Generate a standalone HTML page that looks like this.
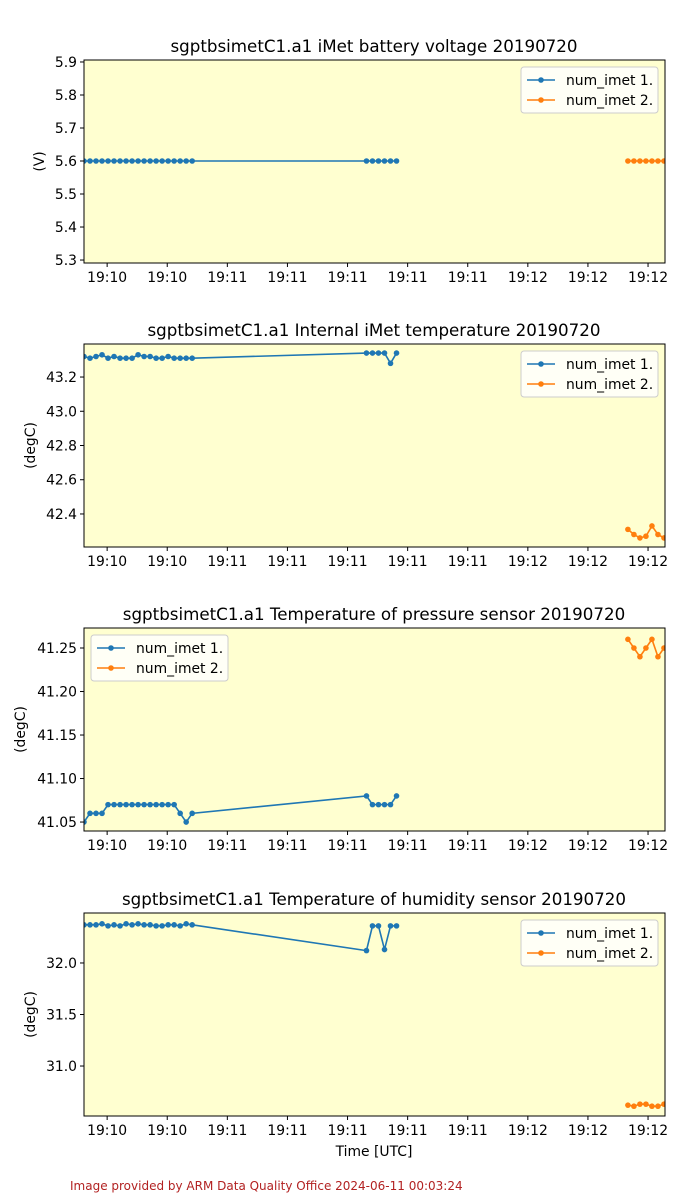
<!DOCTYPE html>
<html><head><meta charset="utf-8"><style>
body{margin:0;background:#fff;}
svg{display:block;font-family:"DejaVu Sans","Liberation Sans",sans-serif;}
</style></head><body>
<svg id="chart" width="700" height="1200" viewBox="0 0 700 1200" xmlns="http://www.w3.org/2000/svg"></svg>
<script>
const tickSec = [7.7, 27.7, 47.7, 67.7, 87.7, 107.7, 127.7, 147.7, 167.7, 187.7];
const tickLabels = ["19:10","19:10","19:11","19:11","19:11","19:11","19:11","19:12","19:12","19:12"];
const blueT = [0,2,4,6,8,10,12,14,16,18,20,22,24,26,28,30,32,34,36, 94,96,98,100,102,104];
const orangeT = [181,183,185,187,189,191,193];
const voltBlue = [5.6,5.6,5.6,5.6,5.6,5.6,5.6,5.6,5.6,5.6,5.6,5.6,5.6,5.6,5.6,5.6,5.6,5.6,5.6, 5.6,5.6,5.6,5.6,5.6,5.6];
const voltOrange = [5.6,5.6,5.6,5.6,5.6,5.6,5.6];
const intBlue = [43.32,43.31,43.32,43.33,43.31,43.32,43.31,43.31,43.31,43.33,43.32,43.32,43.31,43.31,43.32,43.31,43.31,43.31,43.31, 43.34,43.34,43.34,43.34,43.28,43.34];
const intOrange = [42.31,42.28,42.26,42.27,42.33,42.28,42.26];
const presBlue = [41.05,41.06,41.06,41.06,41.07,41.07,41.07,41.07,41.07,41.07,41.07,41.07,41.07,41.07,41.07,41.07,41.06,41.05,41.06, 41.08,41.07,41.07,41.07,41.07,41.08];
const presOrange = [41.26,41.25,41.24,41.25,41.26,41.24,41.25];
const humBlue = [32.37,32.37,32.37,32.38,32.36,32.37,32.36,32.38,32.37,32.38,32.37,32.37,32.36,32.36,32.37,32.37,32.36,32.38,32.37, 32.12,32.36,32.36,32.13,32.36,32.36];
const humOrange = [30.62,30.61,30.63,30.63,30.61,30.61,30.63];
const voltTicks = [5.3,5.4,5.5,5.6,5.7,5.8,5.9];
const intTicks = [42.4,42.6,42.8,43.0,43.2];
const presTicks = [41.05,41.10,41.15,41.20,41.25];
const humTicks = [31.0,31.5,32.0];

const NS="http://www.w3.org/2000/svg";
const svg=document.getElementById('chart');
const X0=84,X1=665;
function xs(t){return X0+t*3.005;}
function mk(tag,attrs,parent){const e=document.createElementNS(NS,tag);for(const k in attrs)e.setAttribute(k,attrs[k]);(parent||svg).appendChild(e);return e;}

const panels=[
 {title:"sgptbsimetC1.a1 iMet battery voltage 20190720",top:60,ymin:5.291,ymax:5.906,ticks:voltTicks,dec:1,ylab:"(V)",b:voltBlue,o:voltOrange,leg:"right",ylx:44},
 {title:"sgptbsimetC1.a1 Internal iMet temperature 20190720",top:344,ymin:42.207,ymax:43.393,ticks:intTicks,dec:1,ylab:"(degC)",b:intBlue,o:intOrange,leg:"right",ylx:35},
 {title:"sgptbsimetC1.a1 Temperature of pressure sensor 20190720",top:628,ymin:41.0397,ymax:41.273,ticks:presTicks,dec:2,ylab:"(degC)",b:presBlue,o:presOrange,leg:"left",ylx:25},
 {title:"sgptbsimetC1.a1 Temperature of humidity sensor 20190720",top:913,ymin:30.515,ymax:32.485,ticks:humTicks,dec:1,ylab:"(degC)",b:humBlue,o:humOrange,leg:"right",ylx:35}
];
const H=203;
panels.forEach((p,i)=>{
 const g=mk('g',{});
 
 
 const ys=v=>p.top+H-(v-p.ymin)/(p.ymax-p.ymin)*H;
 const bg=mk('rect',{x:X0,y:p.top,width:X1-X0,height:H,fill:'#ffffd0'},g);
 
 
 const cp=mk('clipPath',{id:'cp'+i},g);mk('rect',{x:X0,y:p.top,width:X1-X0,height:H},cp);
 const t=mk('text',{x:374,y:p.top-8,'text-anchor':'middle','font-size':16.7,fill:'#000'},g);t.textContent=p.title;
 
 
 p.ticks.forEach(v=>{const y=ys(v);mk('line',{x1:X0-4,x2:X0,y1:y,y2:y,stroke:'#000'},g);
  const tx=mk('text',{x:X0-7,y:y+5,'text-anchor':'end','font-size':13.9},g);tx.textContent=v.toFixed(p.dec);
  
  });
 const yl=mk('text',{x:p.ylx,y:p.top+H/2,'text-anchor':'middle','font-size':13.9,transform:`rotate(-90 ${p.ylx} ${p.top+H/2})`},g);yl.textContent=p.ylab;
 
 
 tickSec.forEach((s,k)=>{const x=xs(s);mk('line',{x1:x,x2:x,y1:p.top+H,y2:p.top+H+4,stroke:'#000'},g);
  const tx=mk('text',{x:x,y:p.top+H+19,'text-anchor':'middle','font-size':13.9},g);tx.textContent=tickLabels[k];
  
  });
 const sg=mk('g',{'clip-path':`url(#cp${i})`},g);
 [[blueT,p.b,'#1f77b4','series-num-imet-1'],[orangeT,p.o,'#ff7f0e','series-num-imet-2']].forEach(([ts,vs,c,n])=>{
  const s=mk('g',{},sg);
  
  
  mk('polyline',{points:ts.map((tt,k)=>xs(tt)+','+ys(vs[k])).join(' '),fill:'none',stroke:c,'stroke-width':1.6},s);
  ts.forEach((tt,k)=>{const d=mk('circle',{cx:xs(tt),cy:ys(vs[k]),r:2.8,fill:c},s);
   
   });
 });
 mk('rect',{x:X0,y:p.top,width:X1-X0,height:H,fill:'none',stroke:'#000','stroke-width':1},g);
 const lx=p.leg==='right'?521:91, ly=p.top+7;
 const lg=mk('g',{},g);
 
 
 mk('rect',{x:lx,y:ly,width:137,height:46,rx:3,fill:'#fff','fill-opacity':0.8,stroke:'#ccc'},lg);
 [['num_imet 1.','#1f77b4'],['num_imet 2.','#ff7f0e']].forEach(([n,c],k)=>{
  const yy=ly+13+k*20;
  const e=mk('g',{},lg);
  
  
  mk('line',{x1:lx+6,x2:lx+34,y1:yy,y2:yy,stroke:c,'stroke-width':1.6},e);
  mk('circle',{cx:lx+20,cy:yy,r:2.8,fill:c},e);
  const tx=mk('text',{x:lx+45,y:yy+5,'font-size':13.9},e);tx.textContent=n;
 });
});
const xl=mk('text',{x:374,y:1156,'text-anchor':'middle','font-size':13.9});xl.textContent='Time [UTC]';


const ft=mk('text',{x:70,y:1190,'font-size':12,fill:'#b22222'});ft.textContent='Image provided by ARM Data Quality Office 2024-06-11 00:03:24';


</script>
</body></html>
